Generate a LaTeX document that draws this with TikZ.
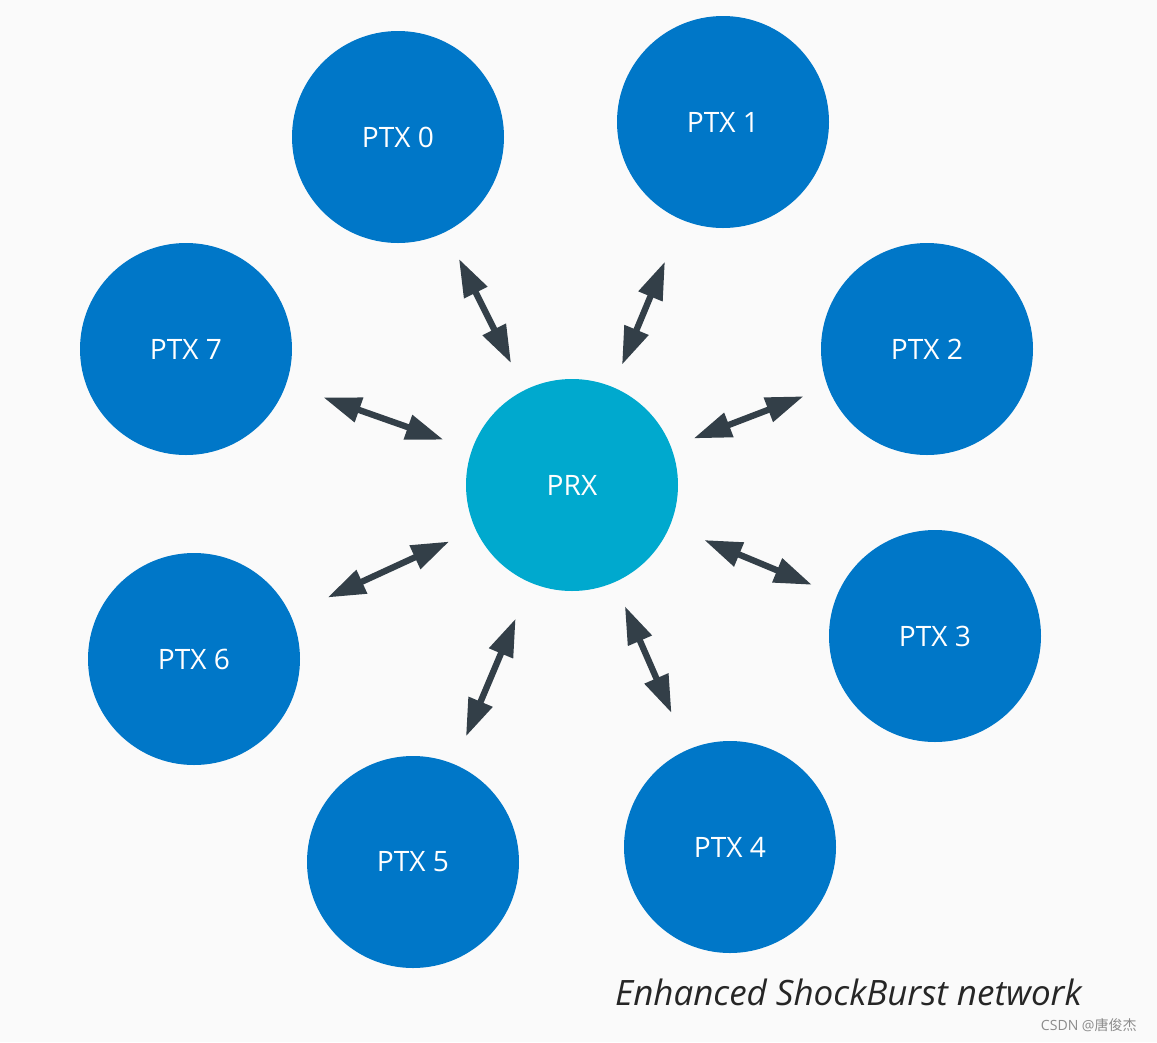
\documentclass[tikz,border=0pt]{standalone}
\usepackage{fontspec}
\setmainfont{Open Sans}
\newfontfamily\cjk{Noto Sans CJK SC}
\usetikzlibrary{arrows.meta}
\definecolor{ptxblue}{RGB}{0,119,200}
\definecolor{prxcyan}{RGB}{0,169,206}
\definecolor{linkgray}{RGB}{51,63,72}
\definecolor{bggray}{RGB}{250,250,250}
\newlength\unitpx \setlength\unitpx{0.02cm}
\tikzset{
  station/.style={circle, fill=ptxblue, minimum size=212\unitpx, inner sep=0pt, text=white, font=\fontsize{16}{18}\selectfont},
  link/.style={linkgray, line width=3.6pt, {Triangle[length=21.5pt,width=14pt]}-{Triangle[length=21.5pt,width=14pt]}}
}
\begin{document}
\begin{tikzpicture}[x=0.02cm, y=-0.02cm, line join=round]
\fill[bggray] (0,0) rectangle (1157,1042);
\useasboundingbox (0,0) rectangle (1157,1042);
\node[station, fill=prxcyan] (prx) at (572,485) {PRX};
\foreach \n/\x/\y in {0/398/137, 1/723/122, 2/927/349, 3/935/636, 4/730/847, 5/413/862, 6/194/659, 7/186/349}
  \node[station] (ptx\n) at (\x,\y) {PTX \n};
\foreach \n/\a/\b in {0/17/17, 1/25.5/13.6, 2/14.7/13.6, 3/15.3/21, 4/22.7/14.7, 5/17/22, 6/23.2/16.4, 7/22.4/17}
  \draw[link, shorten <=\a pt, shorten >=\b pt] (ptx\n) -- (prx);
\node[font=\fontsize{19.9}{23}\selectfont\itshape, text=black!85, anchor=base west] (caption) at (609,1005) {Enhanced ShockBurst network};
\node[font=\fontsize{8}{10}\selectfont, text=black!45, anchor=base east] (mark) at (1143,1030) {CSDN @{\cjk 唐俊杰}};
\end{tikzpicture}
\end{document}
